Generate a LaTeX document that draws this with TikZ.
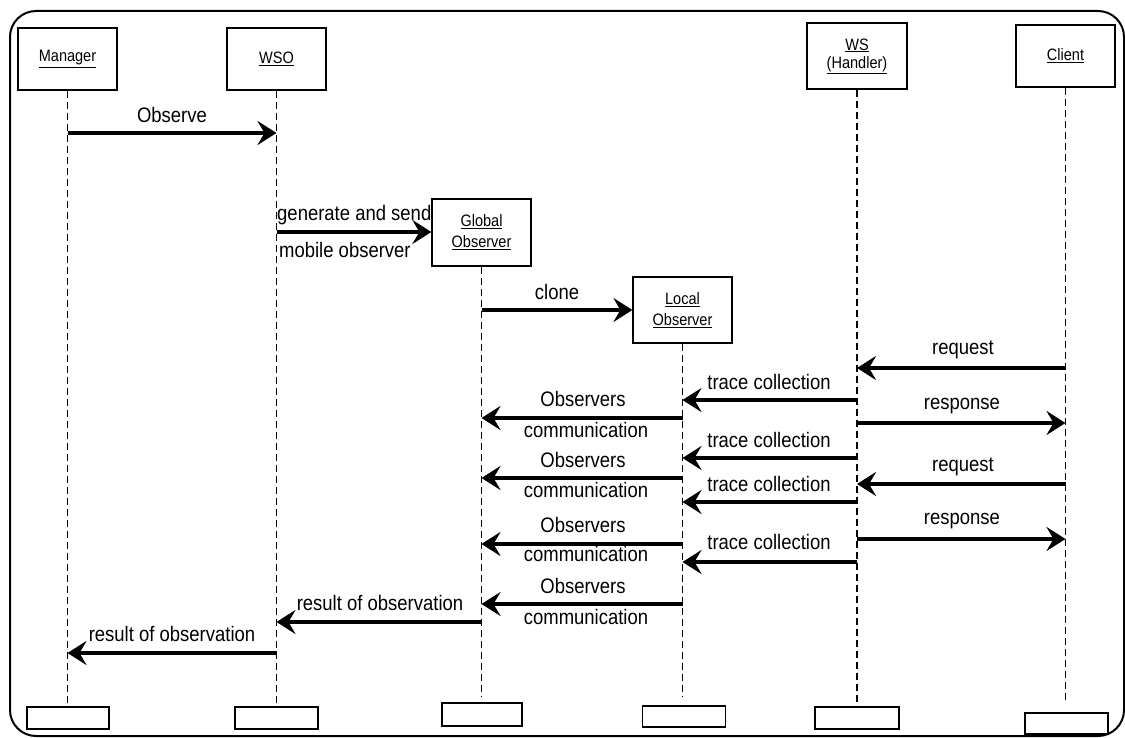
\documentclass[tikz,border=0pt]{standalone}
\usepackage{fontspec}
\setmainfont[FakeStretch=0.88]{Liberation Sans}
\usetikzlibrary{arrows.meta}
\begin{document}
\begin{tikzpicture}[x=1pt,y=-1pt,
  objbox/.style={draw,line width=1.2pt,minimum width=99pt,minimum height=62pt,inner sep=0pt,align=center,
    font=\fontsize{16.5}{21}\selectfont},
  endbox/.style={draw,line width=1.2pt,minimum width=83pt,minimum height=22pt,inner sep=0pt},
  lifeline/.style={line width=1.1pt,dash pattern=on 7pt off 4pt},
  msg/.style={line width=4.5pt,-{Stealth[length=19pt,width=24pt,inset=7pt]}},
  lbl/.style={inner sep=0pt,font=\fontsize{21}{24}\selectfont}]
\useasboundingbox (0,0) rectangle (1125,738);
% outer frame
\draw[line width=2pt,rounded corners=26pt] (10,11) rectangle (1124,736);

% objects
\node[objbox] (mgr) at (67.5,59) {\underline{Manager}};
\node[objbox] (wso) at (276.5,59) {\underline{WSO}};
\node[objbox,minimum width=100pt,minimum height=66pt] (ws) at (857,56) {\underline{WS}\\[-3pt]\underline{(Handler)}};
\node[objbox] (cli) at (1065.5,56) {\underline{Client}};
\node[objbox,minimum height=67pt] (glo) at (481.5,232.5) {\underline{Global}\\\underline{Observer}};
\node[objbox,minimum height=66pt] (loc) at (682.5,310) {\underline{Local}\\\underline{Observer}};

% end markers
\node[endbox,minimum width=82pt] (mgrE) at (68,718) {};
\node[endbox] (wsoE) at (276.5,718) {};
\node[endbox,minimum width=80pt,minimum height=23pt] (gloE) at (482,714.5) {};
\node[endbox,minimum height=21pt] (locE) at (684,716.5) {};
\node[endbox,minimum width=84pt] (wsE) at (857,718) {};
\node[endbox,minimum height=21pt] (cliE) at (1066.5,723.5) {};

% lifelines
\coordinate (gloL) at (482,697);
\coordinate (locL) at (683,697);
\coordinate (cliL) at (1067,703);
\draw[lifeline] (mgr.south) -- (mgr.south |- mgrE.north);
\draw[lifeline] (wso.south) -- (wso.south |- wsoE.north);
\draw[lifeline] (glo.south) -- (glo.south |- gloL);
\draw[lifeline] (loc.south) -- (loc.south |- locL);
\draw[lifeline] (ws.south) -- (ws.south |- wsE.north);
\draw[lifeline] (cli.south) -- (cli.south |- cliL);

% messages
\draw[msg] (mgr.south |- 0,133) -- (wso.south |- 0,133);
\node[lbl] (tObs) at (172,115) {Observe};

\draw[msg] (wso.south |- 0,232) -- (glo.west |- 0,232);
\node[lbl,anchor=west] (tGen) at (277,215) {generate and send};
\node[lbl,anchor=west] (tMob) at (279,250) {mobile observer};

\draw[msg] (glo.south |- 0,310) -- (loc.west |- 0,310);
\node[lbl] (tClo) at (557,292) {clone};

\draw[msg] (cli.south |- 0,368) -- (ws.south |- 0,368);
\node[lbl] (tReq1) at (963,350) {request};

\draw[msg] (ws.south |- 0,400) -- (loc.south |- 0,400);
\node[lbl] (tTr1) at (769,382) {trace collection};

\draw[msg] (loc.south |- 0,418) -- (glo.south |- 0,418);
\node[lbl] (tOb1) at (583,399) {Observers};
\node[lbl] (tCo1) at (586,430) {communication};

\draw[msg] (ws.south |- 0,423) -- (cli.south |- 0,423);
\node[lbl] (tRes1) at (962,406) {response};

\draw[msg] (ws.south |- 0,458) -- (loc.south |- 0,458);
\node[lbl] (tTr2) at (769,440) {trace collection};

\draw[msg] (loc.south |- 0,478) -- (glo.south |- 0,478);
\node[lbl] (tOb2) at (583,460) {Observers};
\node[lbl] (tCo2) at (586,490) {communication};

\draw[msg] (cli.south |- 0,484) -- (ws.south |- 0,484);
\node[lbl] (tReq2) at (963,467) {request};

\draw[msg] (ws.south |- 0,502) -- (loc.south |- 0,502);
\node[lbl] (tTr3) at (769,484) {trace collection};

\draw[msg] (ws.south |- 0,539) -- (cli.south |- 0,539);
\node[lbl] (tRes2) at (962,521) {response};

\draw[msg] (loc.south |- 0,544) -- (glo.south |- 0,544);
\node[lbl] (tOb3) at (583,525) {Observers};
\node[lbl] (tCo3) at (586,554) {communication};

\draw[msg] (ws.south |- 0,562) -- (loc.south |- 0,562);
\node[lbl] (tTr4) at (769,542) {trace collection};

\draw[msg] (loc.south |- 0,604) -- (glo.south |- 0,604);
\node[lbl] (tOb4) at (583,586) {Observers};
\node[lbl] (tCo4) at (586,617) {communication};

\draw[msg] (glo.south |- 0,622) -- (wso.south |- 0,622);
\node[lbl] (tRo1) at (380,603) {result of observation};

\draw[msg] (wso.south |- 0,653) -- (mgr.south |- 0,653);
\node[lbl] (tRo2) at (172,634) {result of observation};
\end{tikzpicture}
\end{document}
